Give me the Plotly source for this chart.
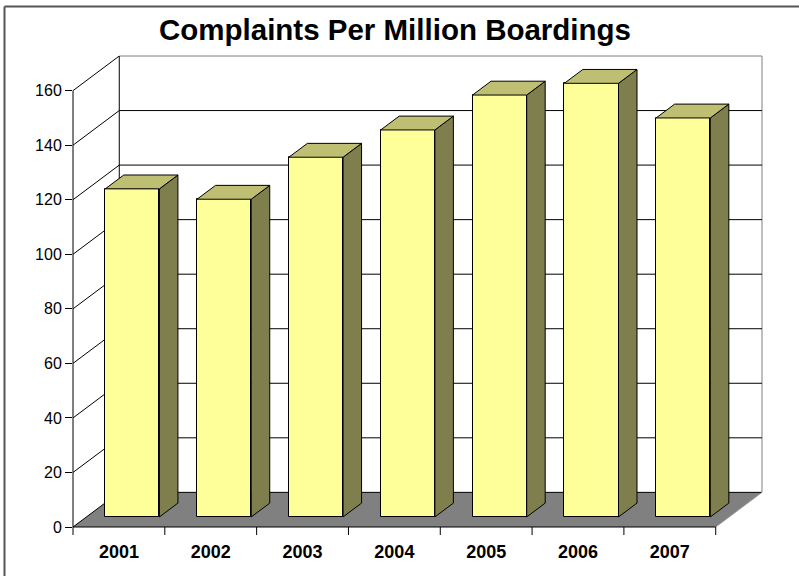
import plotly.graph_objects as go

# ---- data ----
years = ["2001", "2002", "2003", "2004", "2005", "2006", "2007"]
complaints = [120.3, 116.5, 131.9, 141.9, 154.7, 159.0, 146.3]
y_ticks = [0, 20, 40, 60, 80, 100, 120, 140, 160]
chart_title = "Complaints Per Million Boardings"

# ---- 3-D geometry (in axis units) ----
N = len(years)
YMAX = y_ticks[-1]
DX = 0.504        # depth offset along x (category units)
DY = 12.7         # depth offset along y (value units)
F_FRONT, F_BACK = 0.29, 0.69   # bar front/back depth fractions
BAR_W = 0.59

XTOP = N + DX
YTOP = YMAX + DY

# ---- page layout (pixels) ----
W_PX, H_PX = 799, 576
M_L, M_T = 73, 56
PLOT_W, PLOT_H = 689, 471
M_R = W_PX - M_L - PLOT_W
M_B = H_PX - M_T - PLOT_H

FACE = "#FFFF99"
TOP = "#BFBF73"
SIDE = "#7F7F4D"
FLOOR = "#808080"
LINE = "black"


def px_x(x):
    return x / XTOP


def px_y(y):
    return y / YTOP


def page_x(p):
    return (p - M_L) / PLOT_W


def page_y(p):
    return (M_T + PLOT_H - p) / PLOT_H


shapes = []

# floor
shapes.append(dict(type="path", xref="x", yref="y", layer="below",
                   path=f"M 0,0 L {N},0 L {N + DX},{DY} L {DX},{DY} Z",
                   fillcolor=FLOOR, line=dict(width=0)))

# side wall and back wall gridlines
for v in y_ticks:
    shapes.append(dict(type="line", xref="x", yref="y", layer="below",
                       x0=0, y0=v, x1=DX, y1=v + DY,
                       line=dict(color=LINE, width=1)))
    if v < YMAX:
        shapes.append(dict(type="line", xref="x", yref="y", layer="below",
                           x0=DX, y0=v + DY, x1=XTOP, y1=v + DY,
                           line=dict(color=LINE, width=1)))
    else:
        shapes.append(dict(type="line", xref="paper", yref="paper", layer="below",
                           x0=px_x(DX), y0=1, x1=1, y1=1,
                           line=dict(color="#808080", width=1)))

# back wall verticals
shapes.append(dict(type="line", xref="x", yref="y", layer="below",
                   x0=DX, y0=DY, x1=DX, y1=YTOP,
                   line=dict(color=LINE, width=1)))
shapes.append(dict(type="line", xref="paper", yref="paper", layer="below",
                   x0=1, y0=px_y(DY), x1=1, y1=1,
                   line=dict(color="#808080", width=1)))

# floor right edge
shapes.append(dict(type="line", xref="x", yref="y", layer="below",
                   x0=N, y0=0, x1=XTOP, y1=DY,
                   line=dict(color="#9a9a9a", width=1)))

# front axis lines and category ticks
tick_down = -8 / PLOT_H
shapes.append(dict(type="line", xref="paper", yref="paper",
                   x0=0, y0=0, x1=px_x(N), y1=0,
                   line=dict(color=LINE, width=1)))
shapes.append(dict(type="line", xref="paper", yref="paper",
                   x0=0, y0=tick_down, x1=0, y1=px_y(YMAX),
                   line=dict(color=LINE, width=1)))
for i in range(1, N + 1):
    shapes.append(dict(type="line", xref="paper", yref="paper",
                       x0=px_x(i), y0=0, x1=px_x(i), y1=tick_down,
                       line=dict(color=LINE, width=1)))

# chart frame (left and top edges)
shapes.append(dict(type="line", xref="paper", yref="paper",
                   x0=page_x(4.5), y0=page_y(6.5), x1=page_x(4.5), y1=page_y(H_PX),
                   line=dict(color="#555555", width=2)))
shapes.append(dict(type="line", xref="paper", yref="paper",
                   x0=page_x(4.5), y0=page_y(6.5), x1=page_x(W_PX), y1=page_y(6.5),
                   line=dict(color="#555555", width=2)))

# ---- bars ----
b1 = F_FRONT * DY
b2 = F_BACK * DY
sx1 = F_FRONT * DX
d = (F_BACK - F_FRONT) * DX

centers = [i + 0.5 + sx1 for i in range(N)]

top_x, top_y, side_x, side_y = [], [], [], []
for c, v in zip(centers, complaints):
    xl, xr = c - BAR_W / 2, c + BAR_W / 2
    top_x += [xl, xr, xr + d, xl + d, xl, None]
    top_y += [v + b1, v + b1, v + b2, v + b2, v + b1, None]
    side_x += [xr, xr, xr + d, xr + d, xr, None]
    side_y += [b1, v + b1, v + b2, b2, b1, None]

fig = go.Figure()
fig.add_trace(go.Bar(
    x=centers, y=complaints, base=[b1] * N, width=BAR_W,
    marker=dict(color=FACE, line=dict(color=LINE, width=1)),
    hoverinfo="skip", showlegend=False))
fig.add_trace(go.Scatter(
    x=side_x, y=side_y, mode="lines", fill="toself", fillcolor=SIDE,
    line=dict(color=LINE, width=1), hoverinfo="skip", showlegend=False))
fig.add_trace(go.Scatter(
    x=top_x, y=top_y, mode="lines", fill="toself", fillcolor=TOP,
    line=dict(color=LINE, width=1), hoverinfo="skip", showlegend=False))

fig.update_layout(
    width=W_PX, height=H_PX,
    margin=dict(l=M_L, r=M_R, t=M_T, b=M_B, autoexpand=False),
    paper_bgcolor="white", plot_bgcolor="white",
    font=dict(family="Liberation Sans, Arial, sans-serif", color="black"),
    title=dict(text=chart_title, x=395 / W_PX, xanchor="center",
               y=1 - 30 / H_PX, yanchor="middle",
               font=dict(size=29.5, weight="bold", color="black")),
    shapes=shapes,
    xaxis=dict(range=[0, XTOP], tickvals=[i + 0.5 for i in range(N)],
               ticktext=years, ticks="outside", ticklen=8,
               tickcolor="rgba(0,0,0,0)", automargin=False,
               tickfont=dict(size=18, weight="bold"),
               showgrid=False, zeroline=False, showline=False, fixedrange=True),
    yaxis=dict(range=[0, YTOP], tickvals=y_ticks, ticks="outside", ticklen=7,
               tickcolor="black", tickwidth=1, tickfont=dict(size=16),
               automargin=False,
               showgrid=False, zeroline=False, showline=False, fixedrange=True),
    bargap=0,
)

fig.write_html("out.html", config={"displayModeBar": False})
